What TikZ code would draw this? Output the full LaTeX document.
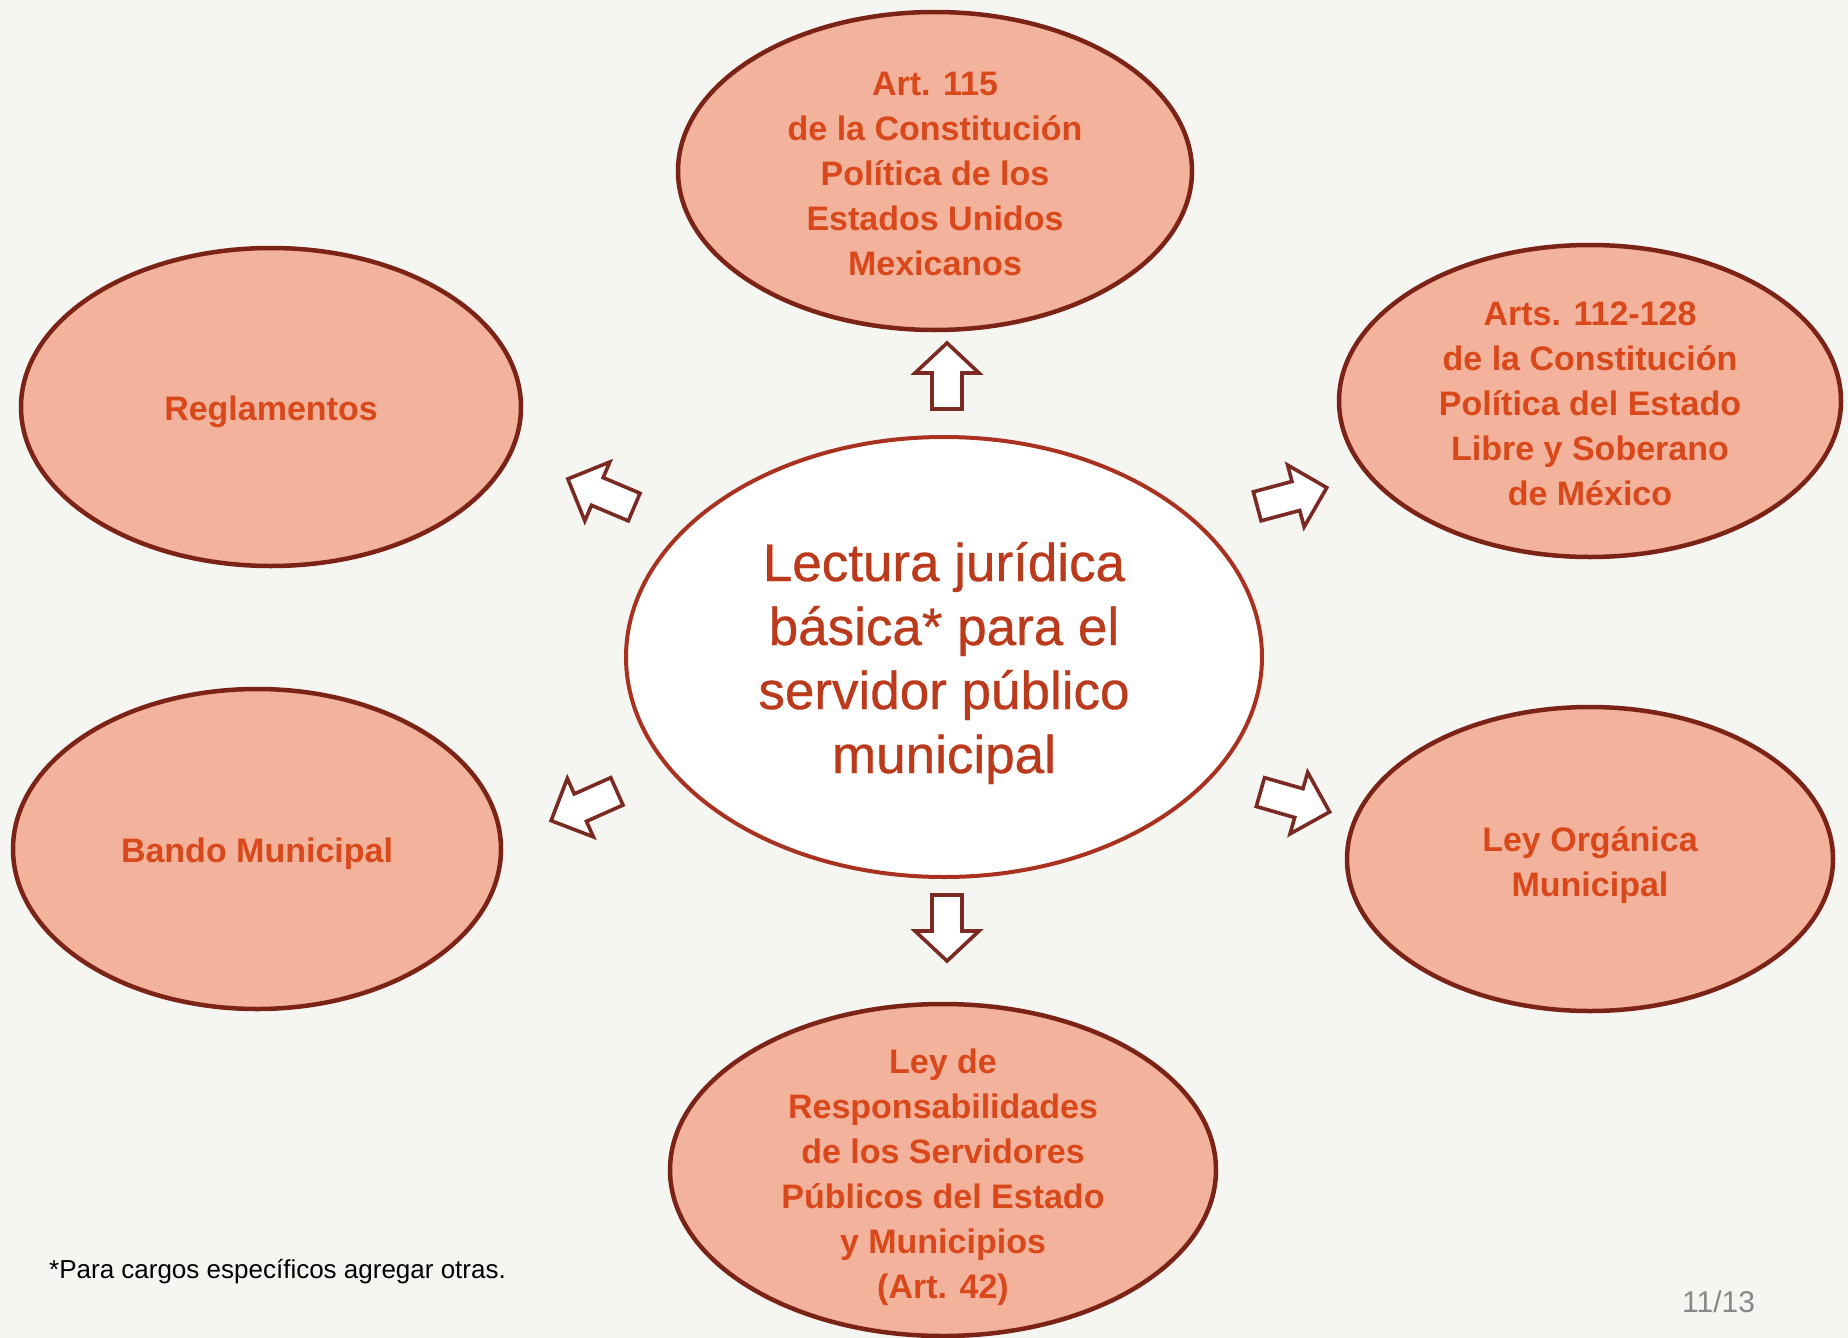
\documentclass[tikz,border=0pt]{standalone}
\usepackage{fontspec}
\setmainfont{Liberation Sans}
\newfontfamily\hubfont{Liberation Sans}[FakeBold=0.6]
\usetikzlibrary{shapes.geometric}
\definecolor{bgc}{HTML}{F5F5F2}
\definecolor{ellfill}{HTML}{F3B29B}
\definecolor{ellborder}{HTML}{7B2316}
\definecolor{elltext}{HTML}{D9481A}
\definecolor{centertext}{HTML}{BC3A1C}
\definecolor{centerborder}{HTML}{A8321F}
\definecolor{arrowc}{HTML}{7A2A22}
\tikzset{
  sat/.style={ellipse, draw=ellborder, line width=4.5pt, fill=ellfill, inner sep=0pt},
  sattext/.style={inner sep=0pt, text=elltext, align=center, font=\bfseries\fontsize{34}{45}\selectfont},
  hub/.style={ellipse, draw=centerborder, line width=4pt, fill=white, inner sep=0pt},
  hubtext/.style={inner sep=0pt, text=centertext, align=center, font=\hubfont\fontsize{53}{64}\selectfont},
  arrowline/.style={draw=arrowc, line width=3.6pt, fill=white, line join=miter},
  blockarrow/.pic={\path[arrowline] (-33pt,-15pt) -- (3pt,-15pt) -- (3pt,-32pt) -- (33pt,0pt) -- (3pt,32pt) -- (3pt,15pt) -- (-33pt,15pt) -- cycle;},
  blockarrowlong/.pic={\path[arrowline] (-36pt,-15pt) -- (4pt,-15pt) -- (4pt,-32pt) -- (36pt,0pt) -- (4pt,32pt) -- (4pt,15pt) -- (-36pt,15pt) -- cycle;}
}
\begin{document}
\begin{tikzpicture}[x=1pt,y=-1pt]
\fill[bgc] (0,0) rectangle (1848,1338);
\useasboundingbox (0,0) rectangle (1848,1338);

\node[hub, minimum width=636pt, minimum height=440pt] (hub) at (944,657) {};
\node[hubtext] (hubt) at ([yshift=-6pt]hub.center)
  {Lectura jurídica\\básica* para el\\servidor público\\municipal};

\node[sat, minimum width=514pt, minimum height=318pt] (art115) at (935,171) {};
\node[sattext] (art115t) at ([yshift=-3pt]art115.center)
  {Art. 115\\de la Constitución\\Política de los\\Estados Unidos\\Mexicanos};
\node[sat, minimum width=502pt, minimum height=312pt] (art112) at (1590,401) {};
\node[sattext] (art112t) at ([yshift=-3pt]art112.center)
  {Arts. 112-128\\de la Constitución\\Política del Estado\\Libre y Soberano\\de México};
\node[sat, minimum width=500pt, minimum height=318pt] (regl) at (271,407) {};
\node[sattext] (reglt) at ([yshift=-5pt]regl.center) {Reglamentos};
\node[sat, minimum width=488pt, minimum height=320pt] (bando) at (257,849) {};
\node[sattext] (bandot) at ([yshift=-5pt]bando.center) {Bando Municipal};
\node[sat, minimum width=486pt, minimum height=304pt] (leyorg) at (1590,859) {};
\node[sattext] (leyorgt) at ([yshift=-6pt]leyorg.center) {Ley Orgánica\\Municipal};
\node[sat, minimum width=546pt, minimum height=332pt] (leyresp) at (943,1170) {};
\node[sattext] (leyrespt) at ([yshift=-7pt]leyresp.center)
  {Ley de\\Responsabilidades\\de los Servidores\\Públicos del Estado\\y Municipios\\(Art. 42)};

\pic[rotate=90] (aup) at (947,376) {blockarrow};
\pic[rotate=-90] (adown) at (947,928) {blockarrow};
\pic[rotate=157] (aul) at (601,493) {blockarrowlong};
\pic[rotate=15] (aur) at (1292,497) {blockarrowlong};
\pic[rotate=204] (all) at (584,806) {blockarrowlong};
\pic[rotate=-16] (alr) at (1295,802) {blockarrowlong};

\node[anchor=base west, inner sep=0pt, font=\fontsize{26}{30}\selectfont] (foot) at (49,1278)
  {*Para cargos específicos agregar otras.};
\node[anchor=base west, inner sep=0pt, text=black!47, font=\fontsize{30}{34}\selectfont] (page) at (1682,1312)
  {11/13};
\end{tikzpicture}
\end{document}
